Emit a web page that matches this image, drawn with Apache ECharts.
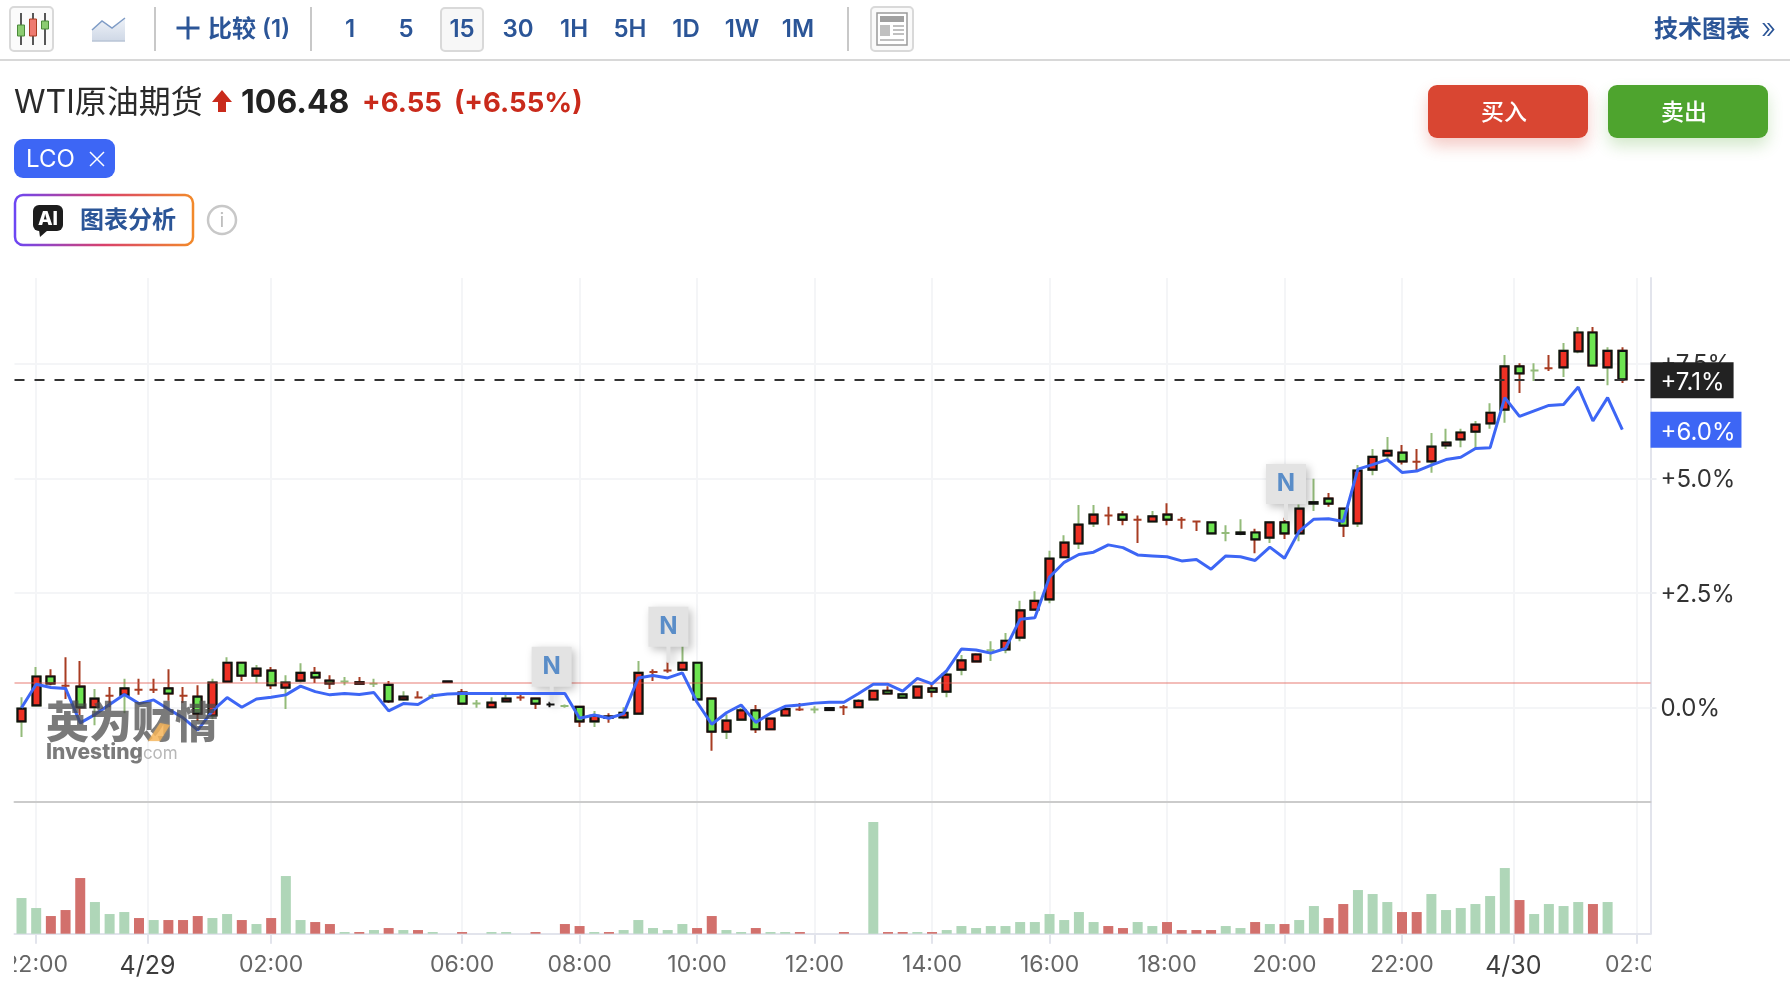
<!DOCTYPE html>
<html>
<head>
<meta charset="utf-8">
<style>html,body{margin:0;padding:0;background:#fff}#c{width:1790px;height:986px}</style>
<script src="https://cdn.jsdelivr.net/npm/echarts@6/dist/echarts.min.js"></script>
</head>
<body>
<div id="c"></div>
<script>
const openPct = [-.30,.05,.68,.48,.46,.01,.26,.28,.39,.39,.42,.26,.24,-.17,.57,.98,.70,.81,.44,.59,.76,.59,.57,.525,.52,.50,.18,.22,.26,.56,.33,.09,.01,.14,.22,.20,.07,.04,.02,-.30,-.22,-.21,-.13,.78,.81,.83,.98,.20,-.52,-.26,-.06,-.47,-.17,-.04,-.04,-.05,.01,.01,.18,.37,.29,.22,.42,.35,.83,1.01,1.25,1.27,1.53,2.14,2.36,3.28,3.58,4.02,4.19,4.21,4.10,4.06,4.21,4.10,4.06,4.04,3.81,3.79,3.82,3.71,4.04,3.80,4.45,4.56,4.34,4.02,5.19,5.50,5.56,5.36,5.37,5.72,5.85,6.02,6.20,6.50,7.44,7.35,7.40,7.42,7.77,8.18,7.42,7.78];
const closePct = [-.02,.68,.53,.48,.01,.20,.26,.42,.39,.39,.31,.26,-.13,.55,.98,.70,.85,.49,.55,.76,.66,.53,.57,.555,.52,.14,.24,.22,.26,.57,.09,.09,.11,.20,.22,.09,.07,.04,-.30,-.18,-.19,-.11,.76,.78,.81,.98,.18,-.52,-.28,-.06,-.47,-.24,-.03,-.04,-.04,-.01,.01,.15,.37,.31,.22,.46,.35,.72,1.03,1.16,1.25,1.46,2.12,2.33,3.25,3.60,3.99,4.21,4.19,4.10,4.10,4.17,4.10,4.10,4.06,3.80,3.81,3.82,3.67,4.04,3.80,4.34,4.48,4.45,3.97,5.17,5.47,5.60,5.37,5.36,5.69,5.78,6.00,6.17,6.43,7.44,7.29,7.35,7.40,7.78,8.18,7.46,7.78,7.16];
const lowPct = [-.64,.03,.49,.19,-.16,-.38,.01,-.12,.28,.32,.15,.10,-.29,-.25,.55,.58,.54,.41,-.03,.55,.54,.41,.49,.51,.45,.10,.15,.20,.19,.55,.07,0,-.01,.12,.15,-.03,.01,0,-.42,-.42,-.33,-.25,-.15,.58,.76,.81,.16,-.94,-.68,-.28,-.55,-.49,-.19,-.07,-.12,-.05,-.16,-.01,.16,.29,.20,.20,.23,.23,.71,.99,1.02,1.19,1.45,2.12,2.28,3.26,3.46,3.94,3.98,3.98,3.59,4.04,3.98,3.90,3.85,3.78,3.63,3.76,3.37,3.59,3.68,3.63,4.29,4.38,3.72,3.94,5.07,5.41,5.30,5.15,5.12,5.64,5.68,5.65,6.08,6.21,6.86,7.12,7.34,7.21,7.73,7.44,7.03,7.08];
const highPct = [.23,.89,.84,1.10,1.02,.41,.45,.63,.63,.63,.84,.45,.49,.63,1.10,1.00,.93,.89,.71,.97,.89,.71,.67,.67,.63,.58,.36,.36,.31,.58,.41,.17,.23,.31,.29,.22,.13,.07,.04,-.07,-.12,.01,1.02,.84,1.00,1.35,1.00,.22,-.15,0,.06,-.22,.01,.10,.03,-.01,.06,.19,.39,.47,.31,.48,.51,.80,1.15,1.19,1.45,1.63,2.33,2.54,3.42,3.76,4.42,4.42,4.38,4.29,4.19,4.29,4.46,4.16,4.06,4.06,3.98,4.11,3.90,4.06,4.14,4.43,4.99,4.68,4.36,5.29,5.64,5.90,5.73,5.64,5.99,6.08,6.08,6.25,6.64,7.69,7.51,7.51,7.69,7.95,8.30,8.30,7.86,7.86];
const lcoPct = [0,.51,.44,.42,-.33,-.15,.07,.29,.09,.17,-.03,-.22,-.49,-.07,.22,.01,.19,.23,.28,.47,.35,.28,.31,.29,.33,-.07,.09,.07,.26,.30,.31,.31,.31,.31,.31,.31,.31,.31,-.23,-.16,-.23,-.13,.65,.70,.65,.76,.12,-.36,-.11,.06,-.32,-.12,.03,.06,.10,.12,.12,.31,.51,.51,.36,.64,.52,.81,1.28,1.26,1.19,1.29,1.93,1.96,2.85,3.17,3.34,3.39,3.55,3.49,3.33,3.31,3.29,3.20,3.23,3.02,3.31,3.29,3.21,3.50,3.26,3.85,4.11,4.12,4.06,5.20,5.30,5.41,5.13,5.16,5.29,5.41,5.46,5.65,5.67,6.76,6.35,6.47,6.59,6.61,6.99,6.25,6.76,6.06];
const volumes = [107,77,53,71,167,95,59,65,47,41,41,41,53,47,59,41,29,47,173,41,35,29,5,5,11,17,11,11,5,0,5,0,5,5,0,5,0,29,23,5,5,11,41,17,11,29,17,53,11,5,17,5,5,5,0,0,5,0,335,5,5,5,5,11,23,17,23,23,35,35,59,41,65,35,23,17,35,23,35,11,11,11,23,17,35,29,29,41,83,47,89,131,119,95,65,65,119,71,77,89,113,197,101,59,89,83,95,89,95];
const wickTone = 'ggrrrgrgrr'+'rrrggrgrgg'+'rrgrgrgrgk'+'rgggrrkgrg'+'rggrrggrgg'+'rrgrgkrggr'+'ggrggrgggg'+'ggggrrrgrr'+'rgggrgrggr'+'rgggrrgggg'+'ggrgrggrgr';
const volumeTone = 'ggrrrgggrg'+'rrrggrgrgg'+'rrgrgrgrgr'+'rgggrrrrrg'+'rgggggrrgg'+'rggrrrrrgr'+'rgrggggggg'+'ggggrrggrr'+'rrggrgrggr'+'rgggrrgggg'+'ggrggggrg';
const tickIndex = [1,8.58,17,30,38,46,54,62,70,78,86,94,101.58,110];
const tickLabels = ['22:00','4/29','02:00','06:00','08:00','10:00','12:00','14:00','16:00','18:00','20:00','22:00','4/30','02:00'];
const yTicks = [0,2.5,5,7.5];
const lastPct = 7.14, lastLabel = '+7.1%';
const lcoLast = 6.06, lcoLabel = '+6.0%';
const prevClosePct = 0.55;
const news = [[36.1,0.106],[44.05,0.98],[86.1,4.09]];

const FF = 'Inter, "Noto Sans CJK SC", sans-serif';
const BLUE = '#2b5597';
const RED = '#a83c22', GREEN = '#93bb7a', BLACK = '#111';
const chart = echarts.init(document.getElementById('c'), null, {renderer:'canvas'});

const toneColor = t => t === 'g' ? GREEN : t === 'r' ? RED : BLACK;
const wickData = openPct.map((o,i)=>{
  const c = toneColor(wickTone[i]);
  return {value:[i,o,closePct[i],lowPct[i],highPct[i]],
    itemStyle:{color:c,color0:c,borderColor:c,borderColor0:c,borderColorDoji:c}};
});
const bodyData = [];
openPct.forEach((o,i)=>{
  const c = closePct[i];
  if(o!==c) bodyData.push([i,o,c,Math.min(o,c),Math.max(o,c)]);
});
const volData = volumes.map((v,i)=>({value:[i,v],itemStyle:{color:volumeTone[i]==='g'?'#afd6b8':'#d2706c'}}));

function t(text,x,y,font,fill,extra){
  return {type:'text',z:60,silent:true,style:Object.assign({text,x,y,font,fill,textVerticalAlign:'middle',verticalAlign:'middle'},extra||{})};
}
function r(x,y,w,h,rad,style,extra){
  return Object.assign({type:'rect',z:60,silent:true,shape:{x,y,width:w,height:h,r:rad},style},extra||{});
}
function ln(x1,y1,x2,y2,stroke,w){
  return {type:'line',z:60,silent:true,shape:{x1,y1,x2,y2},style:{stroke,lineWidth:w}};
}
const graphics = [
  ln(0,60,1790,60,'#d8d8d8',2),
  // candle icon
  r(10,7,43,44,4,{fill:'#fbfbfb',stroke:'#d9d9d9',lineWidth:2}),
  ln(21,13,21,45,'#222',1.5),ln(33,13,33,45,'#222',1.5),ln(45,13,45,45,'#222',1.5),
  r(17.5,25,7,11,0,{fill:'#8ccc72',stroke:'#4a8a3a',lineWidth:1}),
  r(29.5,19,7,17,0,{fill:'#ee7a70',stroke:'#a83c22',lineWidth:1}),
  r(41.5,21,7,8,0,{fill:'#8ccc72',stroke:'#4a8a3a',lineWidth:1}),
  // area icon
  {type:'polygon',z:60,silent:true,shape:{points:[[92,30],[102,21],[112,28],[125,18],[125,41],[92,41]]},
    style:{fill:new echarts.graphic.LinearGradient(0,0,0,1,[{offset:0,color:'#eef2f8'},{offset:1,color:'#cfd8e6'}])}},
  {type:'polyline',z:60,silent:true,shape:{points:[[92,30],[102,21],[112,28],[125,18]]},style:{stroke:'#7f9cc6',lineWidth:1.5,fill:'none'}},
  ln(92,41,125,41,'#b9c4d6',1.5),
  ln(155,7,155,51,'#c8c8c8',2),ln(311,7,311,51,'#c8c8c8',2),ln(848,7,848,51,'#c8c8c8',2),
  ln(176.5,28,199.5,28,BLUE,3),ln(188,16.5,188,39.5,BLUE,3),
  t('比较 (1)',208,30,'600 24px '+FF,BLUE),
  r(441,8,42,43,4,{fill:'#f7f7f7',stroke:'#d9d9d9',lineWidth:2}),
  // news icon
  r(871,7,42,44,4,{fill:'#fafafa',stroke:'#d9d9d9',lineWidth:2}),
  r(877,13,30,32,0,{fill:'#fff',stroke:'#9a9a9a',lineWidth:1.5}),
  r(880,16,24,6,0,{fill:'#a0a0a0'}),
  r(880,25,10,11,0,{fill:'#c0c0c0'}),
  ln(893,26,904,26,'#c0c0c0',2),ln(893,30,904,30,'#c0c0c0',2),ln(893,34,904,34,'#c0c0c0',2),ln(880,40,904,40,'#c0c0c0',2),
  t('技术图表',1654,30,'600 24px '+FF,BLUE),
  t('»',1761,30,'300 28px '+FF,BLUE),
  // title row
  t('WTI原油期货',14,103,'400 32px '+FF,'#2a2a2a'),
  {type:'polygon',z:60,silent:true,shape:{points:[[222,90],[232,102],[226,102],[226,112],[218,112],[218,102],[212,102]]},style:{fill:'#c92a1b'}},
  t('106.48',241,103,'700 32px '+FF,'#222'),
  t('+6.55',362,104,'700 27.5px '+FF,'#c92a1b'),
  t('(+6.55%)',454,104,'700 27.5px '+FF,'#c92a1b'),
  // buttons
  r(1428,85,160,53,9,{fill:'#d94632',shadowBlur:16,shadowOffsetY:8,shadowColor:'rgba(217,70,50,0.28)'}),
  t('买入',1481,113,'500 23px '+FF,'#fff'),
  r(1608,85,160,53,9,{fill:'#4ea42e',shadowBlur:16,shadowOffsetY:8,shadowColor:'rgba(78,164,46,0.25)'}),
  t('卖出',1661,113,'500 23px '+FF,'#fff'),
  // LCO chip
  r(14,139,101,39,9,{fill:'#3d66f5'}),
  t('LCO',26,160,'400 24px '+FF,'#fff'),
  ln(90,152,104,166,'#fff',1.5),ln(104,152,90,166,'#fff',1.5),
  // AI button
  r(15,195,178,50,8,{fill:'#fff',lineWidth:2.5,stroke:new echarts.graphic.LinearGradient(0,0,1,0,[{offset:0,color:'#6b46f5'},{offset:.5,color:'#d9416b'},{offset:1,color:'#f28a2a'}])}),
  r(33,205,30,26,6,{fill:'#1d1d1d'}),
  {type:'polygon',z:60,silent:true,shape:{points:[[39,230],[48,230],[40,237]]},style:{fill:'#1d1d1d'}},
  t('AI',48,219,'800 19px '+FF,'#fff',{align:'center',textAlign:'center'}),
  t('图表分析',80,221,'600 24px '+FF,BLUE),
  {type:'circle',z:60,silent:true,shape:{cx:222,cy:220,r:14},style:{fill:'#fff',stroke:'#c8c8c8',lineWidth:2.5}},
  t('i',222,221,'400 20px '+FF,'#bdbdbd',{align:'center',textAlign:'center'}),
  // watermark
  t('英为财情',46,722,'900 43px "Noto Sans CJK SC"','rgba(70,70,70,0.72)',{shadowBlur:4,shadowColor:'rgba(70,70,70,0.7)'}),
  t('Investing',46,753,'800 21px '+FF,'rgba(90,90,90,0.8)',{shadowBlur:2,shadowColor:'rgba(80,80,80,0.5)'}),
  t('.com',138,754,'400 17px '+FF,'rgba(170,170,170,0.85)',{shadowBlur:1,shadowColor:'rgba(170,170,170,0.5)'}),
  {type:'polygon',z:61,silent:true,shape:{points:[[148,741],[160,723],[170,725],[160,741]]},style:{fill:'rgba(245,180,90,0.75)',shadowBlur:2,shadowColor:'rgba(245,180,90,0.6)'}},
  // clip of the time labels at the pane edges
  r(0,945,14,41,0,{fill:'#fff'},{z:90}),
  r(1651,938,139,48,0,{fill:'#fff'},{z:90})
];
['1','5','15','30','1H','5H','1D','1W','1M'].forEach((s,i)=>{
  graphics.push(t(s,350+56*i,30,'600 24px '+FF,BLUE,{align:'center',textAlign:'center'}));
});

const tagLabel = (text,bg,padRight)=>({show:true,position:'end',distance:0,formatter:'{a|'+text+'}',
  rich:{a:{backgroundColor:bg,color:'#fff',fontFamily:FF,fontSize:24,lineHeight:24,padding:[9,padRight,3,10]}}});

const option = {
  animation:false,
  backgroundColor:'#fff',
  textStyle:{fontFamily:FF},
  graphic:{elements:graphics},
  grid:[
    {left:14.5,top:278,width:1636,height:523.7},
    {left:14.5,top:801.7,width:1636,height:132}
  ],
  xAxis:[
    {type:'value',gridIndex:0,min:-0.4765,max:110.92,
      axisLine:{show:true,onZero:false,lineStyle:{color:'#cbcbcb',width:2}},
      axisTick:{show:false,customValues:tickIndex},
      axisLabel:{show:false,customValues:tickIndex},
      splitLine:{show:true,lineStyle:{color:'#f4f5f7',width:2}}},
    {type:'value',gridIndex:1,min:-0.4765,max:110.92,
      axisLine:{show:true,onZero:false,lineStyle:{color:'#e2e4ec',width:2}},
      axisTick:{show:true,length:10,customValues:tickIndex,lineStyle:{color:'#e2e4ec',width:2}},
      axisLabel:{show:true,customValues:tickIndex,margin:20,hideOverlap:false,showMinLabel:true,showMaxLabel:true,
        formatter:v=>{
          const s = tickLabels[tickIndex.indexOf(v)];
          return s && s.indexOf('/')>=0 ? '{d|'+s+'}' : '{n|'+s+'}';
        },
        rich:{
          n:{fontFamily:FF,fontSize:23,color:'#666'},
          d:{fontFamily:FF,fontSize:25,color:'#3d3d3d'}
        }},
      splitLine:{show:true,lineStyle:{color:'#f4f5f7',width:2}}}
  ],
  yAxis:[
    {type:'value',gridIndex:0,position:'right',min:-2.049,max:9.368,
      axisLine:{show:true,onZero:false,lineStyle:{color:'#e2e4ec',width:2}},
      axisTick:{show:true,length:6,customValues:yTicks,lineStyle:{color:'#eceef2',width:2}},
      axisLabel:{show:true,customValues:yTicks,margin:10,
        formatter:v=>'{a|'+(v>0?'+':'')+v.toFixed(1)+'%}',
        rich:{a:{fontFamily:FF,fontSize:24,color:'#333',padding:[3,0,0,0]}}},
      splitLine:{show:true,lineStyle:{color:'#f4f5f7',width:2}}},
    {type:'value',gridIndex:1,position:'right',min:0,max:396,
      axisLine:{show:true,onZero:false,lineStyle:{color:'#e2e4ec',width:2}},
      axisTick:{show:false},axisLabel:{show:false},splitLine:{show:false}}
  ],
  series:[
    {type:'bar',name:'Volume',xAxisIndex:1,yAxisIndex:1,data:volData,barWidth:10,z:2},
    {type:'candlestick',name:'WTI wick',xAxisIndex:0,yAxisIndex:0,layout:'horizontal',barWidth:8.5,z:3,
      encode:{x:0,y:[1,2,3,4]},data:wickData,itemStyle:{borderWidth:2}},
    {type:'candlestick',name:'WTI body',xAxisIndex:0,yAxisIndex:0,layout:'horizontal',barWidth:8.5,z:4,
      encode:{x:0,y:[1,2,3,4]},data:bodyData,
      itemStyle:{color:'#ee3124',color0:'#6ee551',borderColor:BLACK,borderColor0:BLACK,borderWidth:2.2}},
    {type:'line',name:'LCO',xAxisIndex:0,yAxisIndex:0,z:5,
      data:lcoPct.map((v,i)=>[i,v]),showSymbol:false,smooth:false,
      lineStyle:{color:'#3d66f5',width:3},
      markLine:{silent:true,symbol:'none',animation:false,precision:2,
        data:[
          {yAxis:prevClosePct,lineStyle:{color:'rgba(225,80,70,0.5)',width:1.5,type:'solid'},label:{show:false}},
          {yAxis:lastPct,lineStyle:{color:'#333',width:2,type:[10,10]},label:tagLabel(lastLabel,'#222',9)},
          {yAxis:lcoLast,lineStyle:{color:'rgba(0,0,0,0)',width:1},label:tagLabel(lcoLabel,'#3d66f5',6)}
        ]},
      markPoint:{silent:true,animation:false,
        symbol:'path://M0 0H40V40H22V56H18V40H0Z',symbolSize:[40,56],symbolOffset:[0,-28],symbolKeepAspect:false,
        itemStyle:{color:'#e3e3e3',shadowBlur:8,shadowOffsetX:3,shadowOffsetY:3,shadowColor:'rgba(0,0,0,0.25)'},
        label:{show:true,position:'inside',offset:[0,-8],formatter:'N',fontFamily:FF,fontSize:24,fontWeight:700,color:'#5a8dc8'},
        data:news.map(n=>({coord:n}))}
    }
  ]
};
chart.setOption(option);
</script>
</body>
</html>
